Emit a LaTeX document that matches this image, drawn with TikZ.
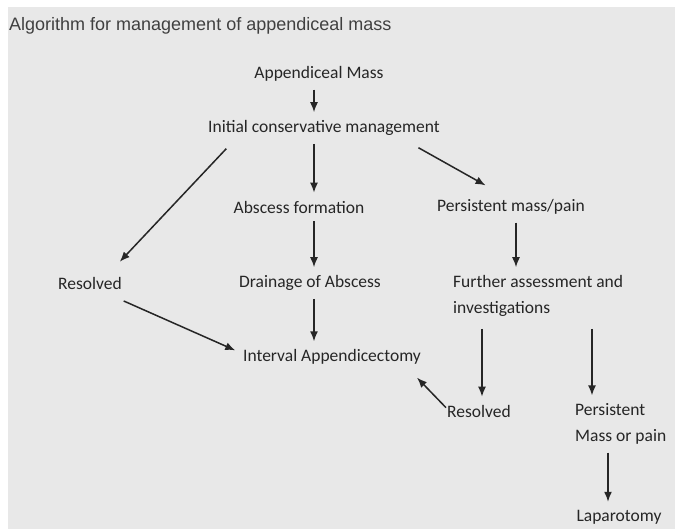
\documentclass[tikz,border=0pt]{standalone}
\usepackage{fontspec}
\setmainfont{Carlito}
\newfontfamily\titlefont{Liberation Sans}
\usetikzlibrary{arrows.meta}

\begin{document}
\begin{tikzpicture}[x=1pt, y=-1pt,
        txt/.style={inner sep=4pt, text=black!85, font=\fontsize{17.5}{26}\selectfont},
        arr/.style={-{Latex[length=10pt,width=8pt]}, line width=1.5pt, black!85, shorten <=4pt, shorten >=4pt}]
        \useasboundingbox (0,0) rectangle (675,529);
        \fill[white] (0,0) rectangle (675,529);
        \fill[black!9] (8,7) rectangle (675,529);

        \node[anchor=west, inner sep=0pt, text=black!75, font=\titlefont\fontsize{18}{21}\selectfont] (title) at (9,26) {Algorithm for management of appendiceal mass};

        \node[txt] (mass) at (319,74) {Appendiceal Mass};
        \node[txt] (init) at (324,128) {Initial conservative management};
        \node[txt] (abscess) at (299,207) {Abscess formation};
        \node[txt] (persist) at (511,207) {Persistent mass/pain};
        \node[txt] (resolvedL) at (90,283) {Resolved};
        \node[txt] (drainage) at (310,283) {Drainage of Abscess};
        \node[txt, anchor=west, align=left] (further) at (449,296) {Further assessment and\\investigations};
        \node[txt] (interval) at (332,357) {Interval Appendicectomy};
        \node[txt] (resolvedM) at (479,411) {Resolved};
        \node[txt, anchor=west, align=left] (persmass) at (571,424) {Persistent\\Mass or pain};
        \node[txt] (lap) at (619,517) {Laparotomy};

        % arrow columns
        \coordinate (spine) at (314,0);
        \coordinate (colR) at (516,0);
        \coordinate (colM) at (482,0);
        \coordinate (colF) at (592,0);
        \coordinate (colL) at (608,0);

        \draw[arr] (mass.south -| spine) -- (init.north -| spine);
        \draw[arr] (init.south -| spine) -- (abscess.north -| spine);
        \draw[arr] (abscess.south -| spine) -- (drainage.north -| spine);
        \draw[arr] (drainage.south -| spine) -- (interval.north -| spine);
        \draw[arr] ([xshift=25pt,yshift=-6pt]init.south west) -- ([xshift=-9pt,yshift=8pt]resolvedL.north east);
        \draw[arr] ([xshift=-29pt,yshift=-6pt]init.south east) -- ([xshift=56pt,yshift=8pt]persist.north west);
        \draw[arr] (persist.south -| colR) -- (further.north -| colR);
        \draw[arr] ([xshift=-6pt,yshift=-6pt]resolvedL.south east) -- ([yshift=5pt]interval.west);
        \draw[arr, shorten <=8pt] (further.south -| colM) -- (resolvedM.north -| colM);
        \draw[arr, shorten <=8pt] (further.south -| colF) -- (persmass.north -| colF);
        \draw[arr, shorten <=0pt, shorten >=0pt] ([xshift=3pt,yshift=-7pt]resolvedM.north west) -- ([xshift=-8pt,yshift=-9pt]interval.south east);
        \draw[arr] (persmass.south -| colL) -- (lap.north -| colL);
\end{tikzpicture}
\end{document}
